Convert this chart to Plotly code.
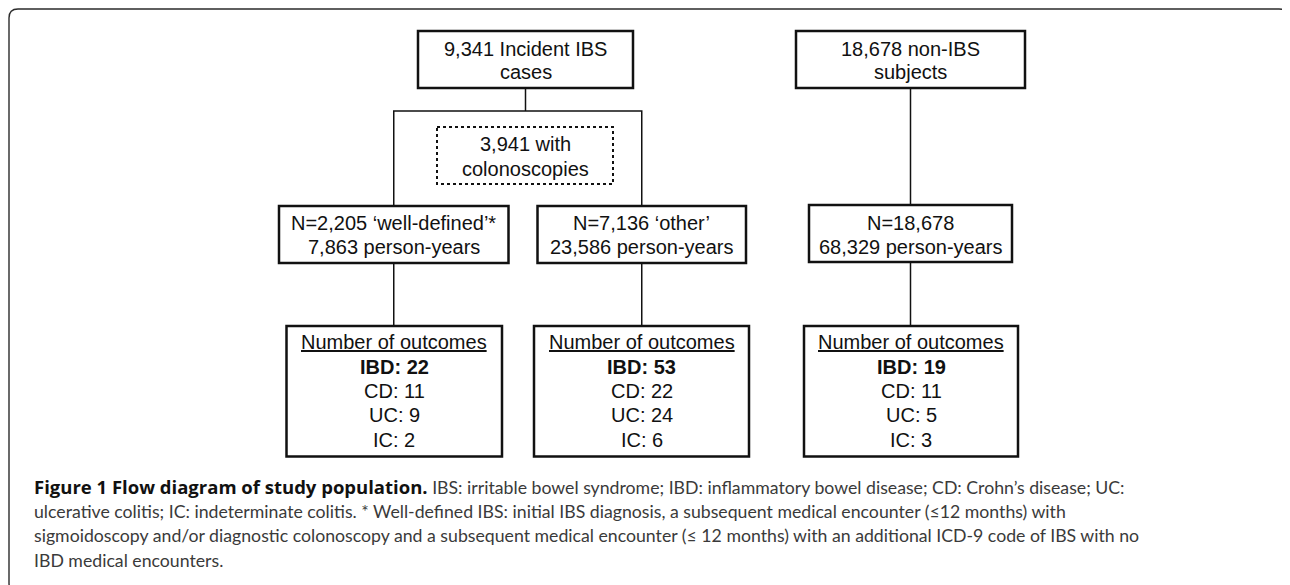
import plotly.graph_objects as go

# ---------------- data ----------------
top_lines = [["9,341 Incident IBS", "cases"], ["18,678 non-IBS", "subjects"]]
colonoscopy_lines = ["3,941 with", "colonoscopies"]
mid_lines = [
    ["N=2,205 \u2018well-defined\u2019*", "7,863 person-years"],
    ["N=7,136 \u2018other\u2019", "23,586 person-years"],
    ["N=18,678", "68,329 person-years"],
]
outcome_header = "Number of outcomes"
outcome_names = ["IBD", "CD", "UC", "IC"]
ibd = [22, 53, 19]
cd = [11, 22, 11]
uc = [9, 24, 5]
ic = [2, 6, 3]
caption_bold = "Figure 1 Flow diagram of study population."
caption_lines = [
    " IBS: irritable bowel syndrome; IBD: inflammatory bowel disease; CD: Crohn\u2019s disease; UC:",
    "ulcerative colitis; IC: indeterminate colitis. * Well-defined IBS: initial IBS diagnosis, a subsequent medical encounter (\u226412 months) with",
    "sigmoidoscopy and/or diagnostic colonoscopy and a subsequent medical encounter (\u2264 12 months) with an additional ICD-9 code of IBS with no",
    "IBD medical encounters.",
]

# ---------------- layout geometry ----------------
W, H = 1290, 585
PAGE_OFF = 8  # default page body margin; the figure starts 8px in
BOX_FONT = "Liberation Sans, Arial, sans-serif"
CAP_FONT = "Lato, Open Sans, sans-serif"

top_boxes = [(418, 633, 31, 88), (796, 1025, 31, 88)]
top_text_y = [48.5, 71.5]
dotted_box = (437, 613, 127, 184)
dotted_text_y = [143.5, 168.5]
mid_boxes = [(279, 508.5, 206, 263), (537.5, 746, 206, 263), (809, 1012, 205, 262)]
mid_text_y = [223, 246.5]
low_boxes = [(286.5, 502, 326, 456.5), (534, 749, 326, 456.5), (804, 1018, 326, 456.5)]
low_text_y = [342, 366.5, 390.5, 415, 439.5]
cap_x = 32
cap_y = [486.5, 511, 535.5, 560.5]

fig = go.Figure()
shapes = []
annotations = []

# outer rounded frame
r = 9
x0, x1, y0, y1 = 9, 1288, 9, 592
frame_path = (f"M {x0+r} {y0} L {x1-r} {y0} Q {x1} {y0} {x1} {y0+r} "
              f"L {x1} {y1-r} Q {x1} {y1} {x1-r} {y1} L {x0+r} {y1} "
              f"Q {x0} {y1} {x0} {y1-r} L {x0} {y0+r} Q {x0} {y0} {x0+r} {y0} Z")
shapes.append(dict(type="path", path=frame_path, xref="x", yref="y",
                   line=dict(color="#2b2b2b", width=1.4)))

def box(b, width=2.5, dash="solid"):
    shapes.append(dict(type="rect", xref="x", yref="y", x0=b[0], x1=b[1], y0=b[2], y1=b[3],
                       line=dict(color="#111111", width=width, dash=dash),
                       fillcolor="rgba(0,0,0,0)"))

def line(path):
    shapes.append(dict(type="path", xref="x", yref="y", path=path,
                       line=dict(color="#111111", width=1.5)))

def cx(b):
    return (b[0] + b[1]) / 2

def txt(x, y, s, size=20, bold=False, under=False, color="#111111"):
    font = dict(family=BOX_FONT, size=size, color=color)
    if under:
        font["lineposition"] = "under"
    annotations.append(dict(x=x, y=y, xref="x", yref="y", text=(f"<b>{s}</b>" if bold else s),
                            showarrow=False, xanchor="center", yanchor="middle", font=font))

# connectors
ca, cb = cx(top_boxes[0]), cx(top_boxes[1])
c0, c1, c2 = cx(mid_boxes[0]), cx(mid_boxes[1]), cx(mid_boxes[2])
line(f"M {ca} {top_boxes[0][3]} L {ca} 111")
line(f"M {c0} {mid_boxes[0][2]} L {c0} 111 L {c1} 111 L {c1} {mid_boxes[1][2]}")
line(f"M {cb} {top_boxes[1][3]} L {cb} {mid_boxes[2][2]}")
for i in range(3):
    c = cx(mid_boxes[i])
    line(f"M {c} {mid_boxes[i][3]} L {c} {low_boxes[i][2]}")

# boxes
for b in top_boxes:
    box(b)
box(dotted_box, width=2, dash="dot")
for b in mid_boxes:
    box(b)
for b in low_boxes:
    box(b)

# texts
for b, lines in zip(top_boxes, top_lines):
    for y, s in zip(top_text_y, lines):
        txt(cx(b), y, s)
for y, s in zip(dotted_text_y, colonoscopy_lines):
    txt(cx(dotted_box), y, s)
for b, lines in zip(mid_boxes, mid_lines):
    for y, s in zip(mid_text_y, lines):
        txt(cx(b), y, s)
for i, b in enumerate(low_boxes):
    vals = [ibd[i], cd[i], uc[i], ic[i]]
    txt(cx(b), low_text_y[0], outcome_header, under=True)
    for j, (nm, v) in enumerate(zip(outcome_names, vals)):
        txt(cx(b), low_text_y[j + 1], f"{nm}: {v}", bold=(j == 0))

# caption
cap_texts = [f"<span style='color:#111111;font-family:Open Sans;font-size:18.5px'><b>{caption_bold}</b></span>{caption_lines[0]}"] + caption_lines[1:]
for y, s in zip(cap_y, cap_texts):
    annotations.append(dict(x=cap_x, y=y, xref="x", yref="y", text=s, showarrow=False,
                            xanchor="left", yanchor="middle",
                            font=dict(family=CAP_FONT, size=17.7, color="#3a3a3a")))

fig.update_layout(
    width=W - PAGE_OFF, height=H - PAGE_OFF,
    margin=dict(l=0, r=0, t=0, b=0),
    paper_bgcolor="white", plot_bgcolor="white",
    xaxis=dict(range=[PAGE_OFF, W], visible=False, fixedrange=True),
    yaxis=dict(range=[H, PAGE_OFF], visible=False, fixedrange=True),
    shapes=shapes, annotations=annotations, showlegend=False,
)
fig.write_html("out.html")
